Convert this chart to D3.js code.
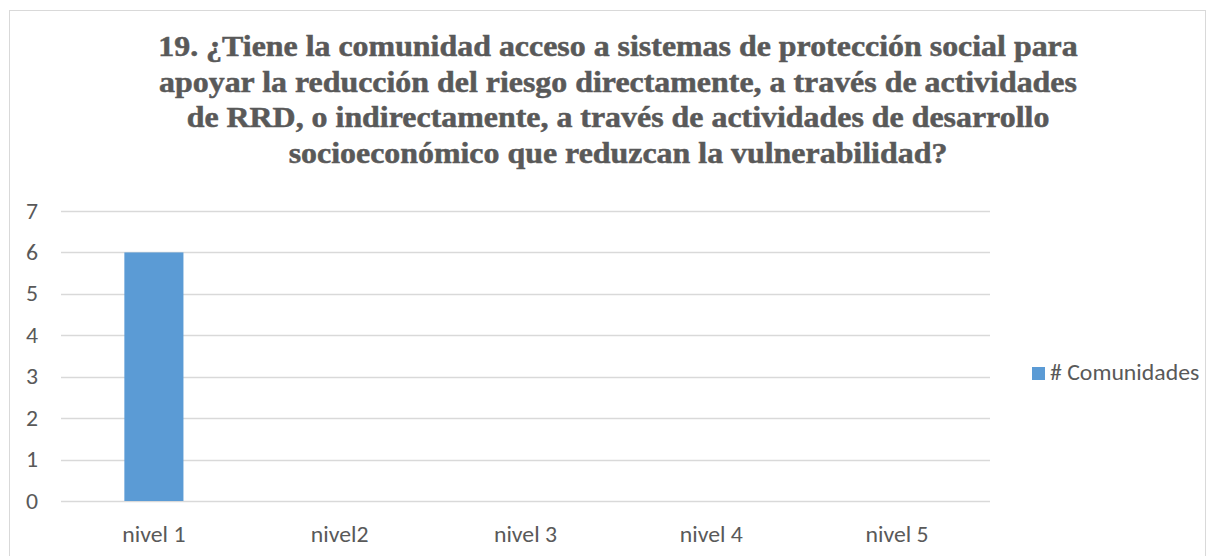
<!DOCTYPE html>
<html>
<head>
<meta charset="utf-8">
<script src="https://cdn.jsdelivr.net/npm/d3@7"></script>
<style>
  body { margin: 0; background: #fff; }
  svg { display: block; }
</style>
</head>
<body>
<svg width="1213" height="556"></svg>
<script>
// chart data
const categories = ['nivel 1', 'nivel2', 'nivel 3', 'nivel 4', 'nivel 5']
const comunidades = [6, 0, 0, 0, 0]
const yTicks = [0, 1, 2, 3, 4, 5, 6, 7]
const seriesName = '# Comunidades'
const titleLines = [
    '19. ¿Tiene la comunidad acceso a sistemas de protección social para',
    'apoyar la reducción del riesgo directamente, a través de actividades',
    'de RRD, o indirectamente, a través de actividades de desarrollo',
    'socioeconómico que reduzcan la vulnerabilidad?'
]

const svg = d3.select('svg')
const textColor = '#595959'
const font = 'Carlito, Calibri, "Open Sans", sans-serif'

// the original picture is a bit wider than its fonts, stretch text to match
function stretch(sel, k) {
    sel.each(function () {
        let len = this.getComputedTextLength()
        d3.select(this)
            .attr('textLength', len * k)
            .attr('lengthAdjust', 'spacingAndGlyphs')
    })
}

// outer chart frame
svg.append('rect')
    .attr('x', 9.5).attr('y', 10.5)
    .attr('width', 1196).attr('height', 560)
    .attr('fill', 'none').attr('stroke', '#d9d9d9')

// title
let title = svg.append('g')
    .selectAll('text')
    .data(titleLines)
    .enter().append('text')
    .attr('x', 618)
    .attr('y', (d, i) => 56 + i * 35.5)
    .attr('text-anchor', 'middle')
    .attr('font-family', '"Liberation Serif", "Times New Roman", serif')
    .attr('font-weight', 'bold')
    .attr('font-size', 29)
    .attr('fill', textColor)
    .attr('stroke', textColor)
    .attr('stroke-width', 0.5)
    .text(d => d)
stretch(title, 1.1)

const x = d3.scaleBand()
    .domain(categories)
    .range([61, 990])
    .paddingInner(0.682)
    .paddingOuter(0.341)

const y = d3.scaleLinear()
    .domain([0, 7])
    .range([501, 211])

// gridlines
svg.append('g')
    .selectAll('line')
    .data(yTicks)
    .enter().append('line')
    .attr('x1', 61).attr('x2', 990)
    .attr('y1', d => Math.round(y(d)) + 0.5)
    .attr('y2', d => Math.round(y(d)) + 0.5)
    .attr('stroke', '#d9d9d9')
    .attr('stroke-width', 1.3)

// bars
svg.append('g')
    .selectAll('rect')
    .data(comunidades)
    .enter().append('rect')
    .attr('x', (d, i) => x(categories[i]))
    .attr('width', x.bandwidth())
    .attr('y', d => y(d))
    .attr('height', d => y(0) - y(d))
    .attr('fill', '#5b9bd5')

// y axis labels
const yAxis = svg.append('g')
    .attr('transform', 'translate(38,0)')
    .call(d3.axisLeft(y).tickValues(yTicks).tickFormat(d3.format('d')).tickSize(0).tickPadding(0))
yAxis.select('.domain').remove()
yAxis.selectAll('text')
    .attr('font-family', font)
    .attr('font-size', 22)
    .attr('fill', textColor)
stretch(yAxis.selectAll('text'), 1.08)

// x axis labels
const xAxis = svg.append('g')
    .attr('transform', 'translate(0,' + (y(0) + 25) + ')')
    .call(d3.axisBottom(x).tickSize(0).tickPadding(0))
xAxis.select('.domain').remove()
xAxis.selectAll('text')
    .attr('font-family', font)
    .attr('font-size', 22)
    .attr('fill', textColor)
stretch(xAxis.selectAll('text'), 1.08)

// legend
const legend = svg.append('g').attr('transform', 'translate(1032,367)')
legend.append('rect')
    .attr('width', 13).attr('height', 13)
    .attr('fill', '#5b9bd5')
let legendText = legend.append('text')
    .attr('x', 18).attr('y', 13)
    .attr('font-family', font)
    .attr('font-size', 22)
    .attr('fill', textColor)
    .text(seriesName)
stretch(legendText, 1.08)
</script>
</body>
</html>
